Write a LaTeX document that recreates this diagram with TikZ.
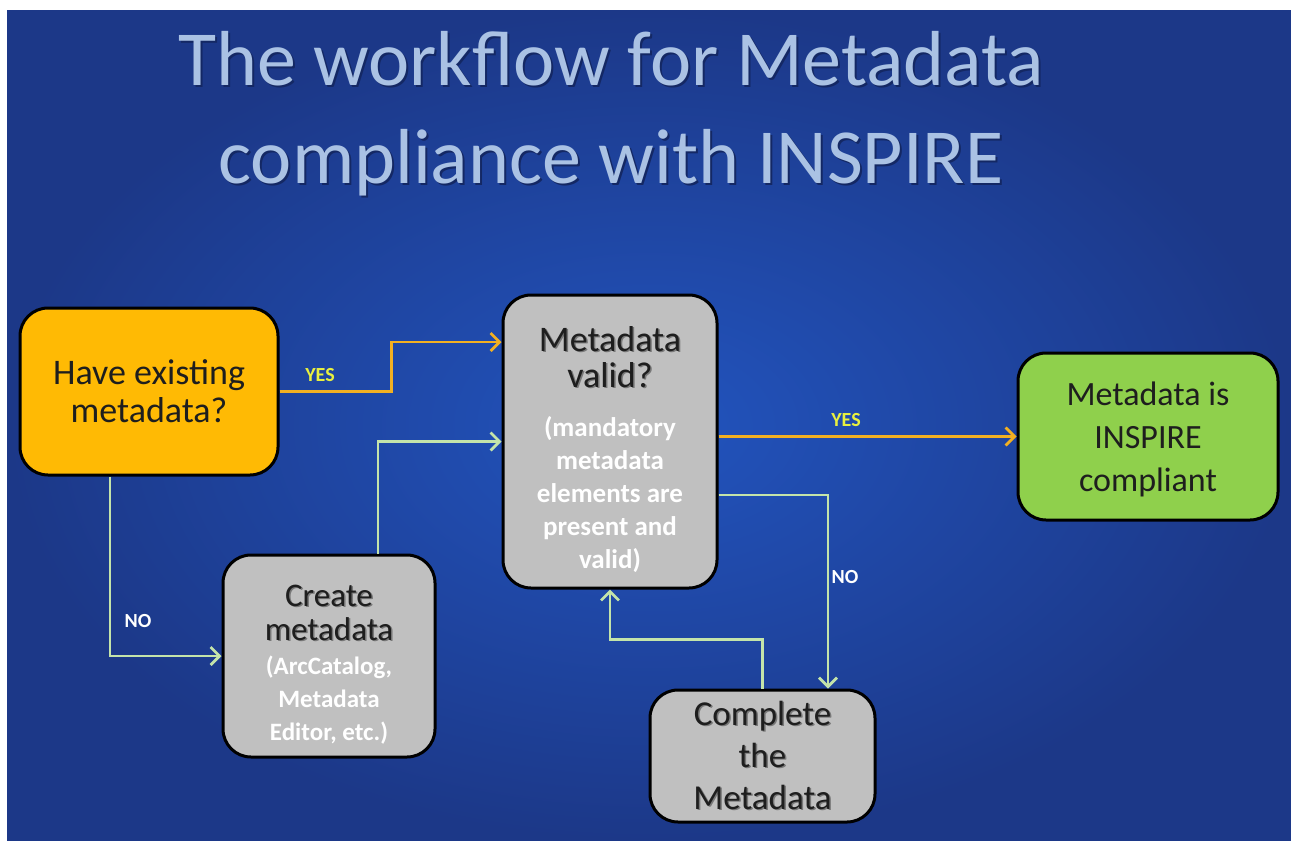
\documentclass[tikz,border=0pt]{standalone}
\usepackage{fontspec}
\setmainfont{Carlito}
\usetikzlibrary{arrows.meta}
\definecolor{bgin}{RGB}{34,84,190}
\definecolor{bgout}{RGB}{28,56,136}
\definecolor{titlec}{RGB}{170,194,228}
\definecolor{orangec}{RGB}{255,186,4}
\definecolor{grayc}{RGB}{192,192,192}
\definecolor{greenc}{RGB}{143,208,76}
\definecolor{yesc}{RGB}{242,176,34}
\definecolor{noc}{RGB}{196,228,170}
\definecolor{yeslab}{RGB}{232,240,64}
\definecolor{darkt}{RGB}{30,30,30}
\definecolor{shadowc}{RGB}{120,120,120}
\definecolor{tshadow}{RGB}{20,40,100}
\newcommand\shd[1]{\leavevmode\rlap{\kern1.5pt\raisebox{-1.5pt}{\color{shadowc}#1}}#1}
\newcommand\tshd[1]{\leavevmode\rlap{\kern2pt\raisebox{-2pt}{\color{tshadow}#1}}#1}
\newcommand\bigline[2]{{\fontsize{#1}{#1}\selectfont\mdseries\color{darkt}\shd{#2}}}
\begin{document}
\begin{tikzpicture}[x=1pt,y=-1pt,
  box/.style={draw=black, line width=3pt, rounded corners=28pt, align=center, inner sep=0pt},
  whitetxt/.style={text=white, font=\bfseries\fontsize{#1}{33}\selectfont},
  lab/.style={font=\bfseries\fontsize{20}{22}\selectfont, inner sep=0pt},
  yesline/.style={draw=yesc, line width=2.8pt, -{Straight Barb[length=9pt,width=18pt]}},
  noline/.style={draw=noc, line width=2.8pt, -{Straight Barb[length=9pt,width=18pt]}}]
\useasboundingbox (0,0) rectangle (1291,841);
\fill[white] (0,0) rectangle (1291,841);
\shade[inner color=bgin, outer color=bgout] (7,10) rectangle (1291,841);

\node[align=center, text=titlec, font=\fontsize{78}{98}\selectfont, inner sep=0pt] (title) at (611,115)
  {\tshd{The workflow for Metadata}\\ \tshd{compliance with INSPIRE}};

\node[box, fill=orangec, minimum width=258pt, minimum height=167pt,
      text=darkt, font=\fontsize{36}{38}\selectfont] (have) at (149,391.5)
  {Have existing\\ metadata?};

\node[box, whitetxt=27, fill=grayc, minimum width=214pt, minimum height=293pt] (valid) at (610,441.5)
  {\rule{0pt}{41pt}\bigline{36}{Metadata}\\[3pt] \bigline{36}{valid?}\\[16pt]
   (mandatory\\ metadata\\ elements are\\ present and\\ valid)};

\node[box, fill=greenc, minimum width=260pt, minimum height=167pt,
      text=darkt, font=\fontsize{34}{43}\selectfont] (green) at (1148,436.5)
  {\rule{0pt}{30pt}Metadata is\\ INSPIRE\\ compliant};

\node[box, whitetxt=25, fill=grayc, minimum width=212pt, minimum height=202pt] (create) at (329,656)
  {\rule{0pt}{38pt}\bigline{33}{Create}\\[1pt] \bigline{33}{metadata}\\[1pt]
   (ArcCatalog,\\ Metadata\\ Editor, etc.)};

\node[box, fill=grayc, minimum width=225pt, minimum height=132pt,
      text=darkt, font=\fontsize{35}{42}\selectfont] (complete) at (762.5,756)
  {\shd{Complete}\\ \shd{the}\\ \shd{Metadata}};

\draw[yesline] (have.east) -- ++(112,0) |- ([yshift=99.5pt]valid.west);
\draw[noline] ([xshift=49pt]create.north) |- (valid.west);
\draw[noline] ([xshift=-39pt]have.south) |- (create.west);
\draw[yesline] (valid.east |- green.west) -- (green.west);
\draw[noline] ([yshift=-53.5pt]valid.east) -| ([xshift=65.5pt]complete.north);
\draw[noline] (complete.north) |- ([yshift=-50pt]valid.south) -- (valid.south);

\node[lab, text=yeslab] (yes1) at (320,375) {YES};
\node[lab, text=white] (no1) at (138,621) {NO};
\node[lab, text=yeslab] (yes2) at (846,420) {YES};
\node[lab, text=white] (no2) at (845,577) {NO};
\end{tikzpicture}
\end{document}
